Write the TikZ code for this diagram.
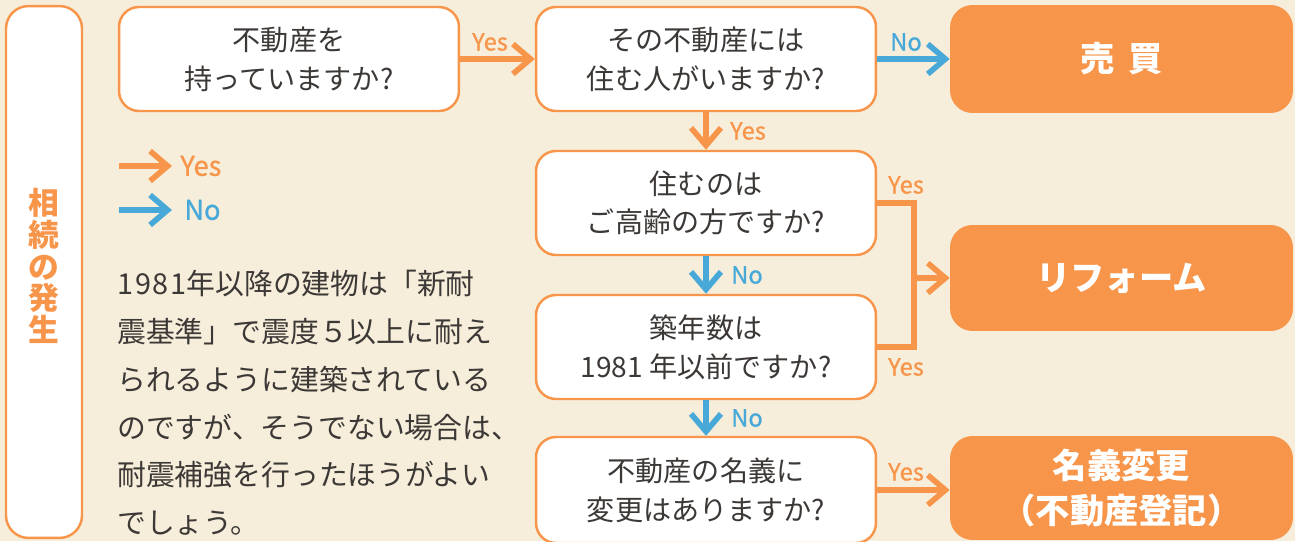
\documentclass[tikz,border=0pt]{standalone}
\usepackage{fontspec}
\setmainfont{Noto Sans CJK JP}
\newfontfamily\labfont[FakeBold=0.8]{Noto Sans CJK JP}
\usetikzlibrary{arrows.meta}
\definecolor{bg}{HTML}{F6EEDB}
\definecolor{orng}{HTML}{F7954A}
\definecolor{blu}{HTML}{48A9D9}
\definecolor{txt}{HTML}{3C3836}
\tikzset{
  qbox/.style={draw=orng, fill=white, line width=1.4pt, rounded corners=0.4cm, inner sep=0pt,
    minimum width=6.8cm, minimum height=2.08cm, align=center, text=txt,
    font=\fontsize{16}{22}\selectfont},
  rbox/.style={fill=orng, rounded corners=0.45cm, inner sep=0pt,
    minimum width=6.86cm, align=center, text=white,
    font=\fontsize{19.5}{25.5}\selectfont\bfseries},
  sidebox/.style={draw=orng, fill=white, line width=1.4pt, rounded corners=0.45cm, inner sep=0pt,
    minimum width=1.52cm, minimum height=10.64cm},
  yesarr/.style={draw=orng, line width=3.2pt, -{Straight Barb[length=10pt,width=17pt]}},
  noarr/.style={draw=blu, line width=3.2pt, -{Straight Barb[length=10pt,width=17pt]}},
  yesline/.style={draw=orng, line width=3.2pt, line join=miter},
  ylab/.style={text=orng, font=\labfont\fontsize{13.5}{13.5}\selectfont, inner sep=0pt},
  nlab/.style={text=blu, font=\labfont\fontsize{13.5}{13.5}\selectfont, inner sep=0pt},
  leglab/.style={font=\labfont\fontsize{15.5}{15.5}\selectfont, inner sep=0pt, anchor=west},
}
\begin{document}
\begin{tikzpicture}[x=0.02cm,y=-0.02cm]
\useasboundingbox (0,0) rectangle (1295,541);
\fill[bg] (0,0) rectangle (1295,541);
\begin{scope}
\clip (0,0) rectangle (1295,541);
% side box
\node[sidebox] (side) at (44,272) {};
\node[text=orng, align=center, inner sep=0pt, font=\fontsize{17.5}{18}\selectfont\bfseries] (sidetxt) at (44,266) {相\\続\\の\\発\\生};
% question boxes
\node[qbox] (q1) at (289,59) {不動産を\\持っていますか?};
\node[qbox] (q2) at (706,59) {その不動産には\\住む人がいますか?};
\node[qbox] (q3) at (706,203) {住むのは\\ご高齢の方ですか?};
\node[qbox] (q4) at (706,347) {築年数は\\1981 年以前ですか?};
\node[qbox, minimum height=2.12cm] (q5) at (706,490) {不動産の名義に\\変更はありますか?};
% result boxes
\node[rbox, minimum height=2.16cm] (r1) at (1121.5,59) {売\hspace{0.4em}買};
\node[rbox, minimum height=2.12cm] (r2) at (1121.5,278) {リフォーム};
\node[rbox, minimum height=2.08cm] (r3) at (1121.5,488) {名義変更\\（不動産登記）};
\end{scope}
% connectors
\draw[yesarr] (q1.east) -- (q2.west);
\node[ylab] (l1) at (490,42) {Yes};
\draw[noarr] (q2.east) -- (r1.west);
\node[nlab] (l2) at (906,42) {No};
\draw[yesarr] (q2.south) -- (q3.north);
\node[ylab] (l3) at (748,131) {Yes};
\draw[noarr] (q3.south) -- (q4.north);
\node[nlab] (l4) at (747,275) {No};
\draw[noarr] (q4.south) -- (q5.north);
\node[nlab] (l5) at (747,418) {No};
\coordinate (jn) at (914,278);
\draw[yesline] (q3.east) -| (jn) |- (q4.east);
\draw[yesarr] (jn) -- (r2.west);
\node[ylab] (l6) at (906,185) {Yes};
\node[ylab] (l7) at (906,367) {Yes};
\draw[yesarr] (q5.east) -- (q5.east -| r3.west);
\node[ylab] (l8) at (906,472) {Yes};
% legend
\coordinate (ly0) at (119,166);
\coordinate (ly1) at (172,166);
\draw[yesarr] (ly0) -- (ly1);
\node[leglab, text=orng] (legy) at (180,166) {Yes};
\coordinate (ln0) at (119,210);
\coordinate (ln1) at (172,210);
\draw[noarr] (ln0) -- (ln1);
\node[leglab, text=blu] (legn) at (184,210) {No};
% paragraph
\node[anchor=west, align=left, inner sep=0pt, text=txt, font=\fontsize{16.4}{27.2}\selectfont] (para) at (117,403)
{1\kern1pt 9\kern1pt 8\kern1pt 1年以降の建物は「新耐\\震基準」で震度５以上に耐え\\られるように建築されている\\のですが、そうでない場合は、\\耐震補強を行ったほうがよい\\でしょう。};
\end{tikzpicture}
\end{document}
